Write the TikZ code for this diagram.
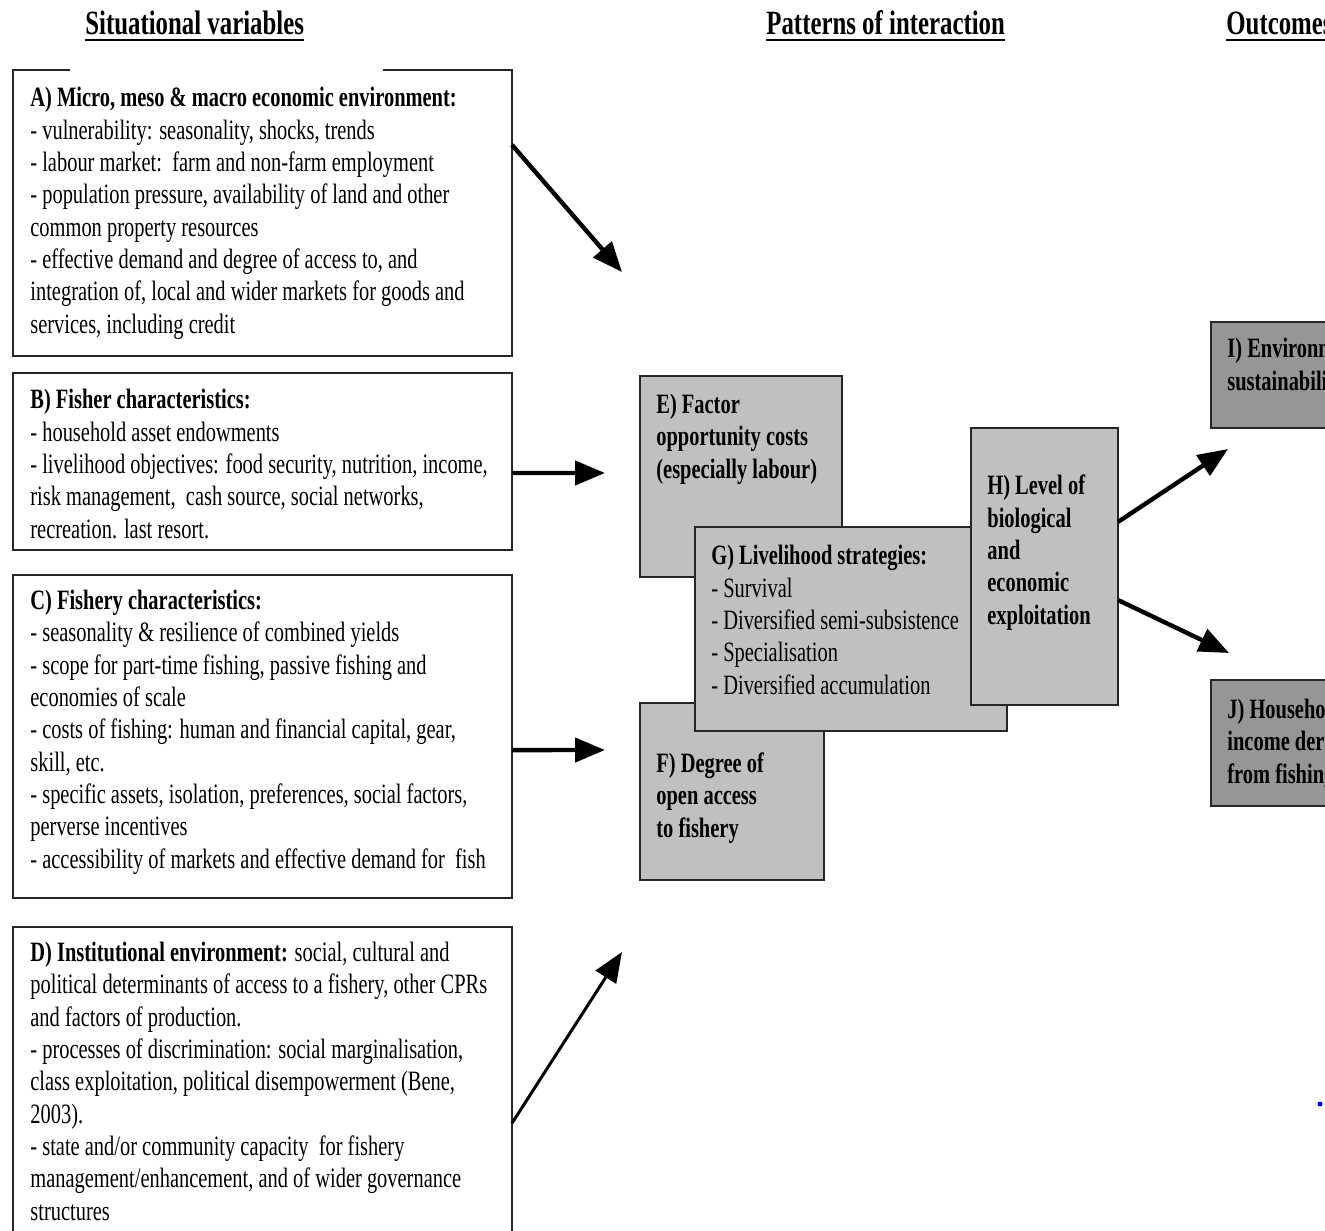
\documentclass[tikz,border=0pt]{standalone}
\usepackage{fontspec}
\setmainfont{Liberation Serif}[FakeStretch=0.73]
\usetikzlibrary{arrows.meta,calc}
\definecolor{lightbox}{HTML}{C0C0C0}
\definecolor{darkbox}{HTML}{969696}
\tikzset{
  frame/.style={draw=black!85, line width=1pt, inner sep=0pt, outer sep=0pt, anchor=north west},
  plain/.style={frame, fill=white},
  pale/.style={frame, fill=lightbox},
  dark/.style={frame, fill=darkbox},
  % text blocks are placed by the baseline of their last line
  body/.style={anchor=base west, inner sep=0pt, align=left, font=\fontsize{14pt}{16.15pt}\selectfont},
  boldbody/.style={body, font=\fontsize{14pt}{16.15pt}\selectfont\bfseries},
  heading/.style={anchor=base west, inner sep=0pt, font=\fontsize{17pt}{20pt}\selectfont\bfseries},
  flow/.style={line width=2.2pt, -{Triangle[length=15pt,width=12pt]}},
  thinflow/.style={line width=1.5pt, -{Triangle[length=15pt,width=12pt]}},
}
\begin{document}
\begin{tikzpicture}[x=0.5pt,y=-0.5pt]
\fill[white] (0,0) rectangle (1325,1230);
\clip (0,0) rectangle (1325,1230);

% column headings
\node[heading] (hsit) at (85,35) {Situational variables};
\node[heading] (hpat) at (766,35) {Patterns of interaction};
\node[heading] (hout) at (1226,35) {Outcomes};
\foreach \h in {hsit,hpat,hout}
  \draw[line width=1pt] ($(\h.base west)+(0,5)$) -- ($(\h.base east)+(0,5)$);

% situational variables
\node[frame, draw=none, minimum width=249.5pt, minimum height=143pt] (A) at (13,70) {};
\draw[draw=black!85, line width=1pt]
  ($(A.north west)+(57,0)$) -- (A.north west) -- (A.south west) -- (A.south east)
  -- (A.north east) -- ($(A.north east)+(-129,0)$);
\node[body] (Atext) at (30,333) {\textbf{A) Micro, meso \& macro economic environment:}\\
- vulnerability: seasonality, shocks, trends\\
- labour market:\ \ farm and non-farm employment\\
- population pressure, availability of land and other\\
common property resources\\
- effective demand and degree of access to, and\\
integration of, local and wider markets for goods and\\
services, including credit};

\node[plain, minimum width=249.5pt, minimum height=88.5pt] (B) at (13,373) {};
\node[body] (Btext) at (30,538) {\textbf{B) Fisher characteristics:}\\
- household asset endowments\\
- livelihood objectives: food security, nutrition, income,\\
risk management,\ \ cash source, social networks,\\
recreation. last resort.};

\node[plain, minimum width=249.5pt, minimum height=161.5pt] (C) at (13,575) {};
\node[body] (Ctext) at (30,868) {\textbf{C) Fishery characteristics:}\\
- seasonality \& resilience of combined yields\\
- scope for part-time fishing, passive fishing and\\
economies of scale\\
- costs of fishing: human and financial capital, gear,\\
skill, etc.\\
- specific assets, isolation, preferences, social factors,\\
perverse incentives\\
- accessibility of markets and effective demand for\ \ fish};

\node[plain, minimum width=249.5pt, minimum height=166.5pt] (D) at (13,927) {};
\node[body] (Dtext) at (30,1220) {\textbf{D) Institutional environment:} social, cultural and\\
political determinants of access to a fishery, other CPRs\\
and factors of production.\\
- processes of discrimination: social marginalisation,\\
class exploitation, political disempowerment (Bene,\\
2003).\\
- state and/or community capacity\ \ for fishery\\
management/enhancement, and of wider governance\\
structures};

% patterns of interaction
\node[pale, minimum width=101pt, minimum height=100.5pt] (E) at (640,376) {};
\node[boldbody] (Etext) at (656,478) {E) Factor\\opportunity costs\\(especially labour)};

\node[pale, minimum width=92pt, minimum height=88.5pt] (F) at (640,703) {};
\node[boldbody] (Ftext) at (656,837) {F) Degree of\\open access\\to fishery};

\node[pale, minimum width=156pt, minimum height=102pt] (G) at (695,527) {};
\node[body] (Gtext) at (711,694) {\textbf{G) Livelihood strategies:}\\
- Survival\\
- Diversified semi-subsistence\\
- Specialisation\\
- Diversified accumulation};

\node[pale, minimum width=73.5pt, minimum height=138.5pt] (H) at (971,428) {};
\node[boldbody] (Htext) at (987,624) {H) Level of\\biological\\and\\economic\\exploitation};

% outcomes
\node[dark, minimum width=80pt, minimum height=53pt] (I) at (1211,322) {};
\node[boldbody] (Itext) at (1227,390) {I) Environmental\\sustainability};

\node[dark, minimum width=80pt, minimum height=63pt] (J) at (1211,680) {};
\node[boldbody] (Jtext) at (1227,783) {J) Household\\income derived\\from fishing};

% arrow targets
\coordinate (tA) at (622,272);
\coordinate (tB) at (605,473);
\coordinate (tC) at (605,750);
\coordinate (tD) at (622,952);
\coordinate (tI) at (1228,449);
\coordinate (tJ) at (1229,653);

\draw[flow] ($(A.north east)!0.262!(A.south east)$) -- (tA);
\draw[flow] ($(B.north east)!0.565!(B.south east)$) -- (tB);
\draw[flow] ($(C.north east)!0.542!(C.south east)$) -- (tC);
\draw[thinflow] ($(D.north east)!0.589!(D.south east)$) -- (tD);
\draw[flow] ($(H.north east)!0.339!(H.south east)$) -- (tI);
\draw[flow] ($(H.north east)!0.621!(H.south east)$) -- (tJ);

\node[circle, fill=blue, inner sep=0pt, minimum size=2.5pt] (speck) at (1320,1104) {};
\end{tikzpicture}
\end{document}
